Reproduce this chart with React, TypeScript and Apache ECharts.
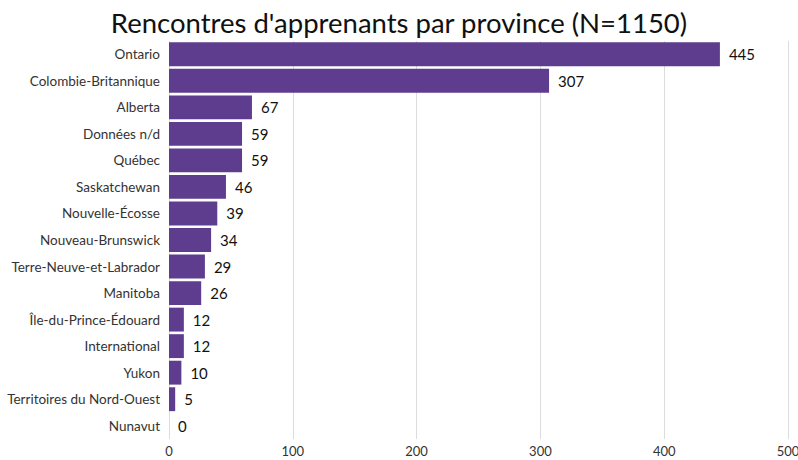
import React, { useEffect, useRef } from "react";
import * as echarts from "echarts";

const categories = [
  "Ontario",
  "Colombie-Britannique",
  "Alberta",
  "Données n/d",
  "Québec",
  "Saskatchewan",
  "Nouvelle-Écosse",
  "Nouveau-Brunswick",
  "Terre-Neuve-et-Labrador",
  "Manitoba",
  "Île-du-Prince-Édouard",
  "International",
  "Yukon",
  "Territoires du Nord-Ouest",
  "Nunavut",
];
const values = [445, 307, 67, 59, 59, 46, 39, 34, 29, 26, 12, 12, 10, 5, 0];
const titleText = "Rencontres d'apprenants par province (N=1150)";

export default function App() {
  const ref = useRef<HTMLDivElement>(null);
  useEffect(() => {
    if (!ref.current) return;
    const chart = echarts.init(ref.current, undefined, { renderer: "svg" });
    chart.setOption({
      animation: false,
      textStyle: { fontFamily: "Lato, sans-serif" },
      title: {
        text: titleText,
        left: "center",
        top: 3,
        textStyle: { fontFamily: "Lato, sans-serif", fontSize: 27.5, fontWeight: "normal", color: "#111" },
      },
      grid: { left: 169, right: 10, top: 41, height: 398, containLabel: false, outerBoundsMode: "none" },
      xAxis: {
        type: "value",
        min: 0,
        max: 500,
        interval: 100,
        axisLine: { show: false },
        axisTick: { show: false },
        splitLine: { lineStyle: { color: "#dcdcdc", width: 1 } },
        axisLabel: { color: "#333", fontSize: 13, margin: 5 },
      },
      yAxis: {
        type: "category",
        inverse: true,
        data: categories,
        axisLine: { show: false },
        axisTick: { show: false },
        axisLabel: { color: "#333", fontSize: 13.5, margin: 9 },
      },
      series: [
        {
          type: "bar",
          data: values,
          barCategoryGap: "10%",
          itemStyle: { color: "#5e3d8e" },
          label: {
            show: true,
            position: "right",
            distance: 9,
            color: "#111",
            fontSize: 15,
          },
        },
      ],
    });
    return () => chart.dispose();
  }, []);
  return <div ref={ref} style={{ width: 798, height: 460, position: "absolute", left: 0, top: 0 }} />;
}
